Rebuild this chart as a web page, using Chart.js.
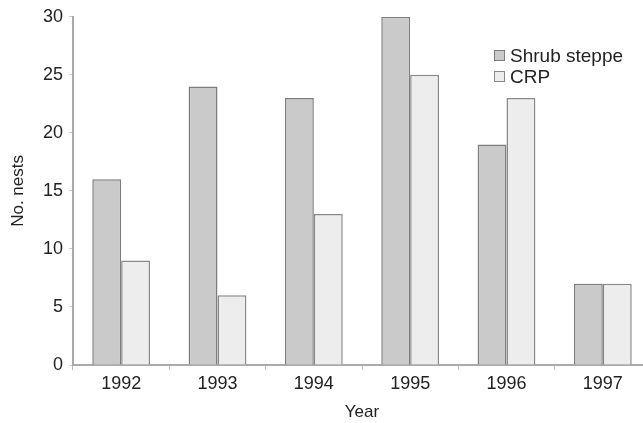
<!DOCTYPE html>
<html><head><meta charset="utf-8">
<script src="https://cdn.jsdelivr.net/npm/chart.js@4/dist/chart.umd.min.js"></script>
<style>html,body{margin:0;padding:0;background:#fff;overflow:hidden;width:643px;height:423px}#wrap{width:660px;height:423px}</style>
</head><body><div id="wrap"><canvas id="c" width="660" height="423"></canvas></div>
<script>
const categories = ["1992","1993","1994","1995","1996","1997"];
const shrubSteppe = [16,24,23,30,19,7];
const crp = [9,6,13,25,23,7];
const seriesNames = ["Shrub steppe","CRP"];
const yTicks = [0,5,10,15,20,25,30];

const FONT = "'Liberation Sans', Arial, sans-serif";

const legendPlugin = {
  id: 'insideLegend',
  afterDraw(chart){
    const ctx = chart.ctx;
    ctx.save();
    ctx.font = "19px " + FONT;
    ctx.textBaseline = 'middle';
    chart.data.datasets.forEach((ds,i)=>{
      const x = 494, y = 56 + i*21;
      ctx.fillStyle = ds.backgroundColor;
      ctx.fillRect(x, y-6, 11, 11);
      ctx.strokeStyle = ds.borderColor;
      ctx.lineWidth = 1;
      ctx.strokeRect(x+0.5, y-5.5, 10, 10);
      ctx.fillStyle = '#222';
      ctx.fillText(ds.label, x+16, y+1);
    });
    ctx.restore();
  }
};

new Chart(document.getElementById('c'), {
  type: 'bar',
  data: {
    labels: categories,
    datasets: [
      {label: seriesNames[0], data: shrubSteppe, backgroundColor: '#cacaca', borderColor: '#7d7d7d', borderWidth: 1.5},
      {label: seriesNames[1], data: crp, backgroundColor: '#ededed', borderColor: '#888888', borderWidth: 1.5}
    ]
  },
  options: {
    responsive: false,
    animation: false,
    layout: {padding: {top: 10, right: 9, left: 0, bottom: 0}},
    plugins: {legend: {display: false}, tooltip: {enabled: false}},
    datasets: {bar: {categoryPercentage: 0.6, barPercentage: 1.0}},
    scales: {
      x: {
        grid: {display: true, drawOnChartArea: false, tickLength: 5, color: '#bbbbbb'},
        border: {display: true, color: '#aaaaaa', width: 2},
        ticks: {color: '#222', font: {family: FONT, size: 18}, padding: 3},
        title: {display: true, text: 'Year', color: '#222', font: {family: FONT, size: 17}, padding: {top: 2, bottom: 0}},
        afterFit(s){ s.height = 58; }
      },
      y: {
        min: 0, max: 30,
        afterBuildTicks(s){ s.ticks = yTicks.map(v=>({value:v})); },
        grid: {display: true, drawOnChartArea: false, tickLength: 4, color: '#cccccc'},
        border: {display: true, color: '#aaaaaa', width: 2},
        ticks: {color: '#222', font: {family: FONT, size: 18}, padding: 6},
        title: {display: true, text: 'No. nests', color: '#222', font: {family: FONT, size: 17}, padding: {top: 8, bottom: 0}},
        afterFit(s){ s.width = 73; }
      }
    }
  },
  plugins: [legendPlugin]
});
</script></body></html>
